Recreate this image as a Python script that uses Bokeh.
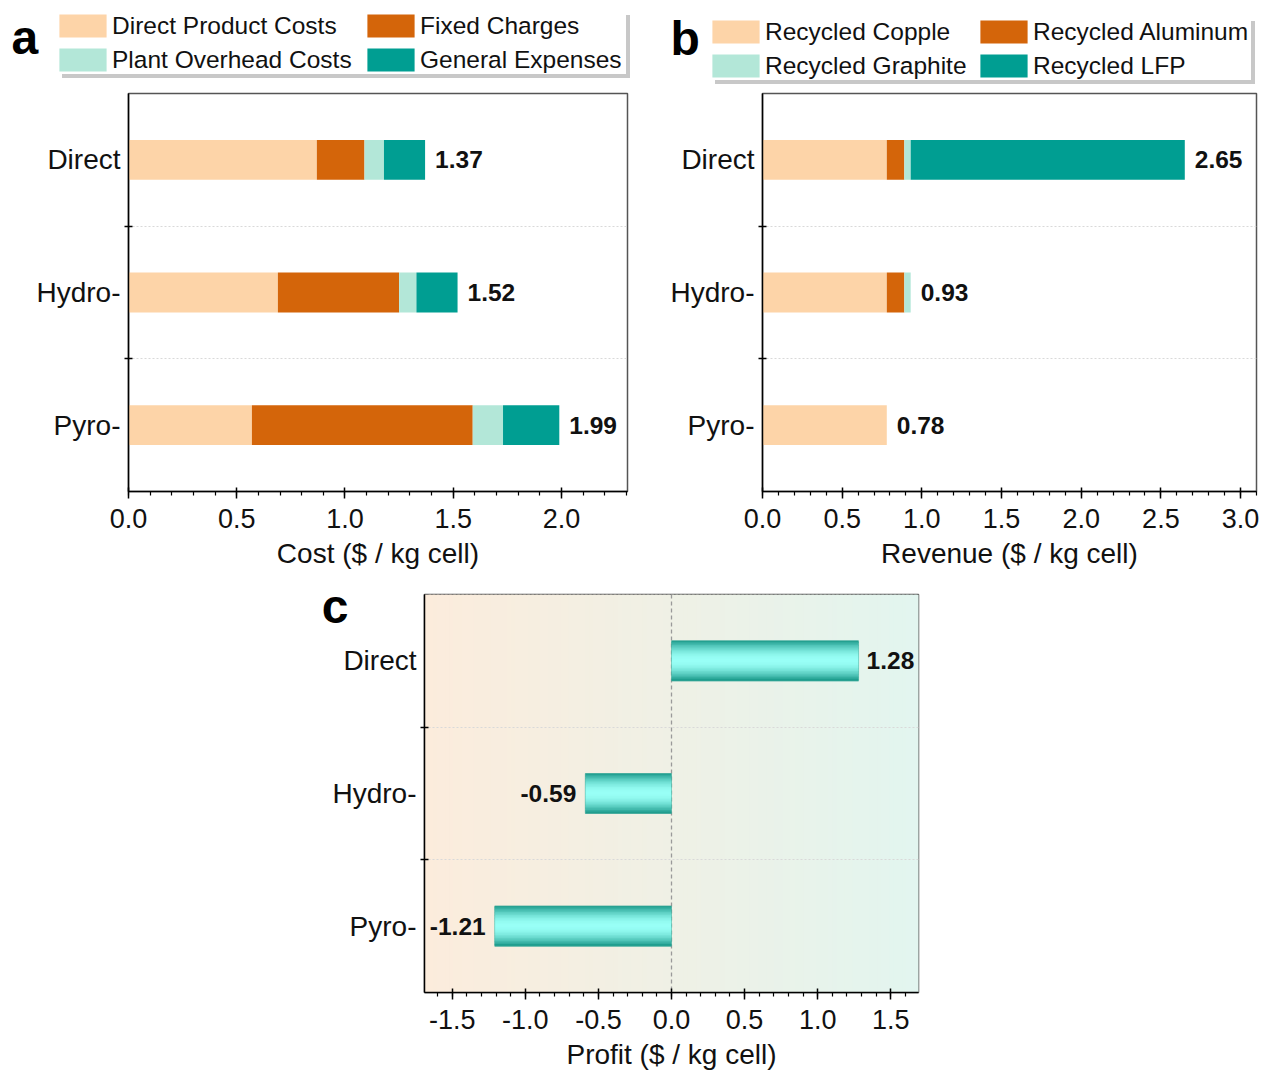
import math
from bokeh.plotting import figure
from bokeh.models import (ColumnDataSource, Legend, LegendItem, Label, Span, FixedTicker,
                          SingleIntervalTicker, NumeralTickFormatter, Range1d, Spacer, LinearAxis)
from bokeh.layouts import row, column
from bokeh.embed import file_html
from bokeh.resources import INLINE
from bokeh.core.properties import value

# ---------------- data ----------------
ROUTES = ["Direct", "Hydro-", "Pyro-"]

COST_SERIES = ["Direct Product Costs", "Fixed Charges", "Plant Overhead Costs", "General Expenses"]
COST_DIRECT_PRODUCT = [0.87, 0.69, 0.57]
COST_FIXED = [0.22, 0.56, 1.02]
COST_PLANT_OVERHEAD = [0.09, 0.08, 0.14]
COST_GENERAL = [0.19, 0.19, 0.26]
COST_TOTAL = [1.37, 1.52, 1.99]

REV_SERIES = ["Recycled Copple", "Recycled Aluminum", "Recycled Graphite", "Recycled LFP"]
REV_COPPER = [0.78, 0.78, 0.78]
REV_ALUMINUM = [0.11, 0.11, 0.0]
REV_GRAPHITE = [0.04, 0.04, 0.0]
REV_LFP = [1.72, 0.0, 0.0]
REV_TOTAL = [2.65, 0.93, 0.78]

PROFIT = [1.28, -0.59, -1.21]

# ---------------- style ----------------
FONT = "Liberation Sans"
PEACH, ORANGE, MINT, TEAL = "#fdd4a8", "#d4650a", "#b3e7d8", "#009e92"
COLORS = [PEACH, ORANGE, MINT, TEAL]
BAR_H = 0.3
YS = [len(ROUTES) - 0.5 - i for i in range(len(ROUTES))]
LETTER_SIZE = "48px"
GW, GH = 59, 29  # legend glyph box (bar swatch is drawn at 80% of it)


def base_fig(width, height, bl, br, bt, bb, xr):
    p = figure(width=width, height=height, x_range=Range1d(*xr), y_range=Range1d(0, len(ROUTES)),
               output_backend="svg", toolbar_location=None,
               min_border_left=bl, min_border_right=br, min_border_top=bt, min_border_bottom=bb)
    p.background_fill_color = "white"
    p.border_fill_color = "white"
    p.outline_line_color = "#555555"
    p.outline_line_width = 1.5
    p.xgrid.visible = False
    p.ygrid.ticker = FixedTicker(ticks=[1, 2])
    p.ygrid.grid_line_color = "#d9d9d9"
    p.ygrid.grid_line_dash = "2 2"
    p.ygrid.grid_line_width = 1

    xa = p.xaxis[0]
    xa.ticker = SingleIntervalTicker(interval=0.5, num_minor_ticks=5)
    xa.formatter = NumeralTickFormatter(format="0.0")
    xa.axis_line_color = "black"
    xa.axis_line_width = 1.5
    xa.major_tick_line_color = "black"
    xa.major_tick_line_width = 1.5
    xa.minor_tick_line_color = "black"
    xa.minor_tick_line_width = 1.2
    xa.major_tick_in = 4
    xa.major_tick_out = 7
    xa.minor_tick_in = 0
    xa.minor_tick_out = 4
    xa.major_label_standoff = 10
    xa.major_label_text_font = FONT
    xa.major_label_text_font_size = "27px"
    xa.major_label_text_color = "#111111"
    xa.axis_label_text_font = FONT
    xa.axis_label_text_font_size = "28px"
    xa.axis_label_text_font_style = "normal"
    xa.axis_label_text_color = "#111111"
    xa.axis_label_standoff = 7

    ya = p.yaxis[0]
    ya.ticker = FixedTicker(ticks=YS, minor_ticks=[1, 2])
    ya.major_label_overrides = {y: r for y, r in zip(YS, ROUTES)}
    ya.axis_line_color = "black"
    ya.axis_line_width = 1.5
    ya.major_tick_in = 0
    ya.major_tick_out = 0
    ya.minor_tick_in = 4
    ya.minor_tick_out = 4
    ya.minor_tick_line_color = "black"
    ya.minor_tick_line_width = 1.5
    ya.major_label_standoff = 4
    ya.major_label_text_font = FONT
    ya.major_label_text_font_size = "28px"
    ya.major_label_text_color = "#111111"
    return p


def legend_common(lg):
    lg.glyph_width = GW
    lg.glyph_height = GH
    lg.label_standoff = 0
    lg.spacing = 5
    lg.padding = 1
    lg.margin = 0
    lg.label_height = 27
    lg.label_text_font = FONT
    lg.label_text_font_size = "24.5px"
    lg.label_text_color = "#111111"
    lg.border_line_color = None
    lg.background_fill_alpha = 1.0


def header(width, height, names, letter, lx, ly, x1, x2, y, lw1, lw2, sx, sy, sw):
    h = figure(width=width, height=height, x_range=Range1d(0, width), y_range=Range1d(0, height),
               output_backend="svg", toolbar_location=None, x_axis_type=None, y_axis_type=None,
               min_border=0, min_border_left=0, min_border_right=0, min_border_top=0,
               min_border_bottom=0)
    h.outline_line_color = None
    h.background_fill_color = "white"
    h.border_fill_color = "white"
    # legend-only renderers, placed below the visible range of this header strip
    rends = [h.hbar(y=[-50], right=[1], height=1, fill_color=c, line_color=None) for c in COLORS]
    dummy = h.hbar(y=[-50], right=[1], height=1, fill_alpha=0, line_alpha=0)
    shadow = Legend(items=[LegendItem(label=" ", renderers=[dummy]),
                           LegendItem(label=" ", renderers=[dummy])],
                    location=(sx, sy))
    legend_common(shadow)
    shadow.background_fill_color = "#c8c8c8"
    shadow.label_width = sw - 2 - GW
    h.add_layout(shadow, "center")
    col1 = Legend(items=[LegendItem(label=names[0], renderers=[rends[0]]),
                         LegendItem(label=names[2], renderers=[rends[2]])],
                  location=(x1, y))
    legend_common(col1)
    col1.background_fill_color = "white"
    col1.label_width = lw1
    h.add_layout(col1, "center")
    col2 = Legend(items=[LegendItem(label=names[1], renderers=[rends[1]]),
                         LegendItem(label=names[3], renderers=[rends[3]])],
                  location=(x2, y))
    legend_common(col2)
    col2.background_fill_color = "white"
    col2.label_width = lw2
    h.add_layout(col2, "center")
    h.add_layout(Label(x=lx, y=ly, x_units="screen", y_units="screen", text=letter,
                       text_font=FONT, text_font_size=LETTER_SIZE, text_font_style="bold",
                       text_baseline="middle", text_align="left", text_color="black"))
    return h


def stacked_panel(width, height, bl, br, bt, bb, xr, series, totals, xlabel):
    p = base_fig(width, height, bl, br, bt, bb, xr)
    p.xaxis[0].axis_label = xlabel
    data = {"y": YS}
    keys = []
    for i, s in enumerate(series):
        k = f"s{i}"
        data[k] = s
        keys.append(k)
    src = ColumnDataSource(data)
    p.hbar_stack(keys, y="y", height=BAR_H, color=COLORS, source=src, line_color=None)
    tsrc = ColumnDataSource(dict(x=totals, y=YS, t=[f"{v:.2f}" for v in totals]))
    p.text(x="x", y="y", text="t", source=tsrc, x_offset=10, text_align="left",
           text_baseline="middle", text_font=value(FONT), text_font_size="24.5px",
           text_font_style="bold", text_color="#111111")
    return p


HEAD_H = 89
ha = header(648, HEAD_H, COST_SERIES, "a", 11, 52, 53, 361, 15, 250, 206, 62, 11, 570)
hb = header(612, HEAD_H, REV_SERIES, "b", 22, 51, 58, 326, 9, 210, 218, 67, 5, 542)

pa = stacked_panel(648, 490, 128, 21, 2, 86, (0, 2.305),
                   [COST_DIRECT_PRODUCT, COST_FIXED, COST_PLANT_OVERHEAD, COST_GENERAL],
                   COST_TOTAL, "Cost ($ / kg cell)")
pb = stacked_panel(612, 490, 114, 4, 4, 88, (0, 3.1),
                   [REV_COPPER, REV_ALUMINUM, REV_GRAPHITE, REV_LFP],
                   REV_TOTAL, "Revenue ($ / kg cell)")

# ---------------- panel c ----------------
XR_C = (-1.69, 1.69)
pc = base_fig(640, 497, 116, 30, 15, 84, XR_C)
pc.xaxis[0].axis_label = "Profit ($ / kg cell)"

# panel letter as an outer, unlined axis label
letter_axis = LinearAxis(ticker=FixedTicker(ticks=[2.91], minor_ticks=[]),
                         major_label_overrides={2.91: "c"})
letter_axis.axis_line_color = None
letter_axis.major_tick_line_color = None
letter_axis.minor_tick_line_color = None
letter_axis.major_tick_out = 0
letter_axis.major_tick_in = 0
letter_axis.major_label_standoff = -19
letter_axis.major_label_text_font = FONT
letter_axis.major_label_text_font_size = LETTER_SIZE
letter_axis.major_label_text_font_style = "bold"
letter_axis.major_label_text_color = "black"
pc.add_layout(letter_axis, "left")

# background gradient (peach -> mint)
M = 120
c_left, c_right = (252, 236, 220), (226, 245, 239)
bl_, br_, bc_ = [], [], []
for j in range(M):
    t = (j + 0.5) / M
    col = tuple(int(round(a + (b - a) * t)) for a, b in zip(c_left, c_right))
    bl_.append(XR_C[0] + (XR_C[1] - XR_C[0]) * j / M)
    br_.append(XR_C[0] + (XR_C[1] - XR_C[0]) * (j + 1.6) / M)
    bc_.append("#%02x%02x%02x" % col)
pc.quad(left=bl_, right=br_, bottom=0, top=len(ROUTES), fill_color=bc_, line_color=None, level="image")

pc.add_layout(Span(location=0, dimension="height", line_color="#9a9a9a", line_dash="4 3",
                   line_width=1.3, level="underlay"))

# gradient-filled bars built from strips
N = 26
edge, center = (22, 150, 134), (152, 255, 246)
sy, sr, sc = [], [], []
for yc, v in zip(YS, PROFIT):
    for k in range(N):
        t = (k + 0.5) / N
        f = math.sin(math.pi * t) ** 0.9
        col = tuple(int(round(a + (b - a) * f)) for a, b in zip(edge, center))
        sy.append(yc + BAR_H / 2 - (k + 0.5) * BAR_H / N)
        sr.append(v)
        sc.append("#%02x%02x%02x" % col)
pc.hbar(y=sy, left=0, right=sr, height=BAR_H / N * 1.6, fill_color=sc, line_color=None)
pc.hbar(y=YS, left=0, right=PROFIT, height=BAR_H, fill_alpha=0, line_color="#3aa898",
        line_width=0.8, line_alpha=0.6)

pos = [(v, y) for v, y in zip(PROFIT, YS) if v >= 0]
neg = [(v, y) for v, y in zip(PROFIT, YS) if v < 0]
pc.text(x=[v for v, _ in pos], y=[y for _, y in pos], text=[f"{v:.2f}" for v, _ in pos],
        x_offset=8, text_align="left", text_baseline="middle", text_font=value(FONT),
        text_font_size="24.5px", text_font_style="bold", text_color="#111111")
pc.text(x=[v for v, _ in neg], y=[y for _, y in neg], text=[f"{v:.2f}" for v, _ in neg],
        x_offset=-9, text_align="right", text_baseline="middle", text_font=value(FONT),
        text_font_size="24.5px", text_font_style="bold", text_color="#111111")

layout = column(row(ha, hb), row(pa, pb), row(Spacer(width=308, height=497), pc))

open("out.html", "w").write(file_html(layout, INLINE))
